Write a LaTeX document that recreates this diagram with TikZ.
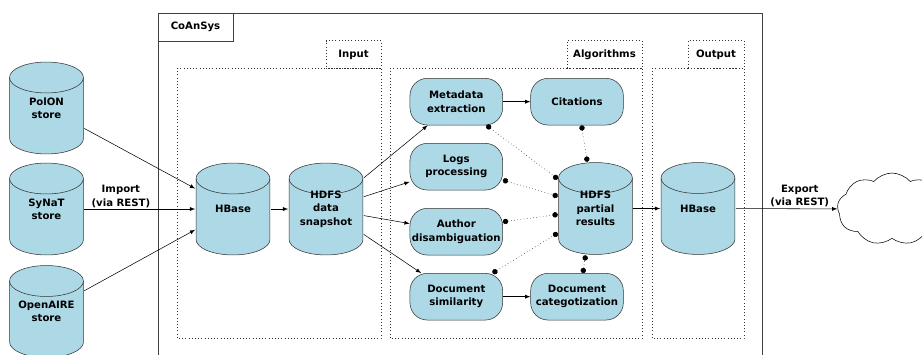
\documentclass[tikz,border=0pt]{standalone}
\usepackage{fontspec}
\setmainfont{DejaVu Sans}
\usetikzlibrary{shapes.symbols,arrows.meta}
\definecolor{storeblue}{RGB}{173,216,230}

\begin{document}
\begin{tikzpicture}[x=0.75pt,y=-0.75pt,>=latex,font=\fontsize{7.6}{10}\selectfont\bfseries]
\tikzstyle{store}=[rectangle,minimum width=56.25pt,minimum height=69.75pt,inner sep=1pt,align=center,
  path picture={
    \path [draw=black!80,fill=storeblue]
      ([shift={(0.4pt,-12pt)}]path picture bounding box.north west)
      arc [start angle=180,end angle=0,x radius=27.7pt,y radius=11.6pt]
      -- ([shift={(-0.4pt,12pt)}]path picture bounding box.south east)
      arc [start angle=0,end angle=-180,x radius=27.7pt,y radius=11.6pt]
      -- cycle;
    \draw [black!80] ([shift={(0.4pt,-12pt)}]path picture bounding box.north west)
      arc [start angle=180,end angle=360,x radius=27.7pt,y radius=11.6pt];
  }];
\tikzstyle{algo}=[rectangle,rounded corners=13pt,draw=black!80,fill=storeblue,minimum width=69.5pt,minimum height=35pt,inner sep=1pt,align=center];
\tikzstyle{frame}=[draw=black!80,dotted];
\tikzstyle{tab}=[draw=black!80,dotted,minimum height=21pt,inner sep=0pt];
\tikzstyle{alloc}=[->];
\tikzstyle{dep}=[dotted,{Circle[length=4pt]}-{Circle[length=4pt]}];
\tikzstyle{lbl}=[above,align=center,inner sep=1pt];
\useasboundingbox (0,0) rectangle (922,354);

% CoAnSys box
\draw [draw=black!75] (158,13) rectangle (762,370);
\node [draw=black!75,minimum width=56.25pt,minimum height=21pt,inner sep=0pt] (coansys) at (195.5,27) {CoAnSys};

% frames
\draw [frame] (177,68) rectangle (381,338);
\draw [frame] (390,68) rectangle (642,338);
\draw [frame] (652,68) rectangle (744,338);
\node [tab,minimum width=41.25pt] (intab) at (353.5,54.5) {Input};
\node [tab,minimum width=56.25pt] (algtab) at (604.5,54.5) {Algorithms};
\node [tab,minimum width=42pt] (outtab) at (716,54.5) {Output};

% sources
\node [store] (polon) at (46.5,108) {PolON\\store};
\node [store] (synat) at (46.5,209) {SyNaT\\store};
\node [store] (openaire) at (46.5,311.5) {OpenAIRE\\store};

% input
\node [store] (hbasein) at (233,209) {HBase};
\node [store] (snapshot) at (326,209) {HDFS\\data\\snapshot};

% algorithms
\node [algo] (meta) at (456.3,101.7) {Metadata\\extraction};
\node [algo] (cit) at (577,101.7) {Citations};
\node [algo] (logs) at (456.3,166.7) {Logs\\processing};
\node [algo] (author) at (456.3,231.7) {Author\\disambiguation};
\node [algo] (docsim) at (456.3,296.7) {Document\\similarity};
\node [algo] (doccat) at (577,296.7) {Document\\categotization};
\node [store] (partial) at (595.5,208.5) {HDFS\\partial\\results};

% output
\node [store] (hbaseout) at (698,208.5) {HBase};
\node [cloud,cloud puffs=9,cloud puff arc=100,draw,fill=white,minimum width=82pt,minimum height=54pt] (web) at (892,209) {};

\draw [alloc] (polon) -- (hbasein);
\draw [alloc] (synat) -- node [lbl,pos=0.33] {Import\\(via REST)} (hbasein);
\draw [alloc] (openaire) -- (hbasein);
\draw [alloc] (hbasein) -- (snapshot);
\draw [alloc] (snapshot) -- (meta);
\draw [alloc] (snapshot) -- (logs);
\draw [alloc] (snapshot) -- (author);
\draw [alloc] (snapshot) -- (docsim);
\draw [alloc] (meta) -- (cit);
\draw [alloc] (docsim) -- (doccat);

\draw [dep] (meta.-38) -- (partial.142);
\draw [dep] (logs.-16) -- (partial.162);
\draw [dep] (author.12) -- (partial.189);
\draw [dep] (docsim.33) -- (partial.213);
\draw [dep] (cit.-79) -- (partial.100);
\draw [dep] (doccat.76) -- (partial.258);

\draw [alloc] (partial) -- (hbaseout);
\draw [alloc] (hbaseout) -- node [lbl,pos=0.63] {Export\\(via REST)} (web);
\end{tikzpicture}
\end{document}
